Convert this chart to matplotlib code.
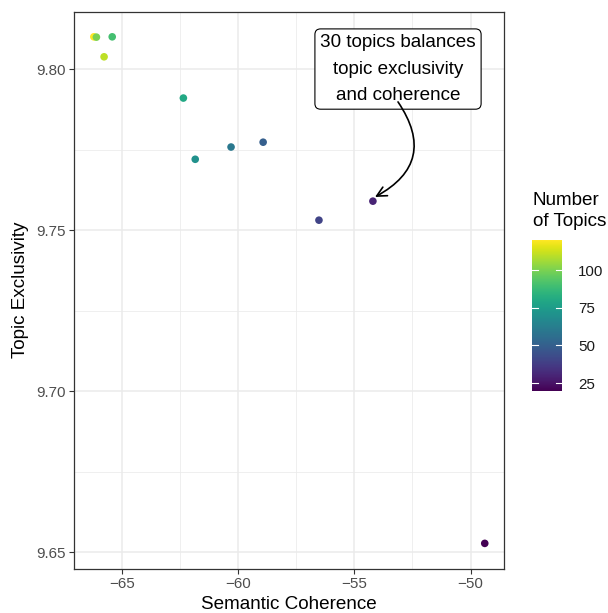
import numpy as np
import matplotlib
matplotlib.use("Agg")
import matplotlib.pyplot as plt
from matplotlib.patches import FancyArrowPatch

plt.rcParams['font.family'] = ['Liberation Sans', 'DejaVu Sans']

# ---- data ----
num_topics = [120, 100, 90, 110, 80, 70, 60, 50, 40, 30, 20]
semantic_coherence = [-66.20, -66.09, -65.41, -65.76, -62.35, -61.84, -60.30, -58.92, -56.52, -54.20, -49.39]
exclusivity = [9.8100, 9.8099, 9.8100, 9.8038, 9.7910, 9.7720, 9.7758, 9.7773, 9.7531, 9.7590, 9.6528]

x_ticks = [-65, -60, -55, -50]
x_minor = [-67.5, -62.5, -57.5, -52.5]
y_ticks = [9.65, 9.70, 9.75, 9.80]
y_minor = [9.675, 9.725, 9.775]
cbar_ticks = [25, 50, 75, 100]

label_text = "30 topics balances\ntopic exclusivity\nand coherence"
label_pos = (-53.12, 9.8000)
arrow_start = (-53.12, 9.7898)
arrow_end = (-54.11, 9.7603)

W, H, DPI = 608, 613, 100
fig = plt.figure(figsize=(W / DPI, H / DPI), dpi=DPI)
ax = fig.add_axes([74.3 / W, 1 - 568.7 / H, 430 / W, (568.7 - 11.5) / H])

# expanded limits (ggplot-like 5%)
xr = max(semantic_coherence) - min(semantic_coherence)
yr = max(exclusivity) - min(exclusivity)
ax.set_xlim(min(semantic_coherence) - 0.05 * xr, max(semantic_coherence) + 0.05 * xr)
ax.set_ylim(min(exclusivity) - 0.05 * yr, max(exclusivity) + 0.05 * yr)

# grid
for v in x_minor:
    ax.axvline(v, color='#EBEBEB', lw=0.55, zorder=0)
for v in y_minor:
    ax.axhline(v, color='#EBEBEB', lw=0.55, zorder=0)
for v in x_ticks:
    ax.axvline(v, color='#EBEBEB', lw=1.1, zorder=0)
for v in y_ticks:
    ax.axhline(v, color='#EBEBEB', lw=1.1, zorder=0)

sc = ax.scatter(semantic_coherence, exclusivity, c=num_topics, cmap='viridis',
                vmin=min(num_topics), vmax=max(num_topics), s=30, linewidths=0, zorder=3)

ax.set_xticks(x_ticks)
ax.set_xticklabels(["\u221265", "\u221260", "\u221255", "\u221250"])
ax.set_yticks(y_ticks)
ax.set_yticklabels([f"{v:.2f}" for v in y_ticks])
ax.tick_params(axis='both', colors='#333333', labelcolor='#4D4D4D', labelsize=10.9,
               length=3.8, width=0.8, pad=2.5)
for s in ax.spines.values():
    s.set_color('#333333')
    s.set_linewidth(0.9)

ax.set_xlabel("Semantic Coherence", fontsize=13.6, labelpad=3)
ax.set_ylabel("Topic Exclusivity", fontsize=13.6, labelpad=5)

# annotation label
ax.text(label_pos[0], label_pos[1], label_text, ha='center', va='center', fontsize=13.6,
        linespacing=1.72, zorder=5,
        bbox=dict(boxstyle='round,pad=0.28,rounding_size=0.3', fc='white', ec='black', lw=0.8))

arrow = FancyArrowPatch(arrow_start, arrow_end, connectionstyle='arc3,rad=-0.55',
                        arrowstyle='->,head_length=7,head_width=3.5', lw=1.2,
                        color='black', zorder=6, shrinkA=0, shrinkB=0)
ax.add_patch(arrow)

# colorbar
cax = fig.add_axes([532 / W, 1 - 390.7 / H, 29.5 / W, 150.7 / H])
cb = fig.colorbar(sc, cax=cax, ticks=cbar_ticks)
cb.outline.set_visible(False)
cax.tick_params(length=0, labelsize=10.9, labelcolor='#1A1A1A', pad=12)
for t in cbar_ticks:
    cax.plot([0, 0.2], [t, t], color='white', lw=0.8, transform=cax.get_yaxis_transform())
    cax.plot([0.8, 1.0], [t, t], color='white', lw=0.8, transform=cax.get_yaxis_transform())
fig.text(532.7 / W, 1 - 211 / H, "Number\nof Topics", ha='left', va='center',
         fontsize=13.6, linespacing=1.35)

fig.savefig("out.png", dpi=DPI)
